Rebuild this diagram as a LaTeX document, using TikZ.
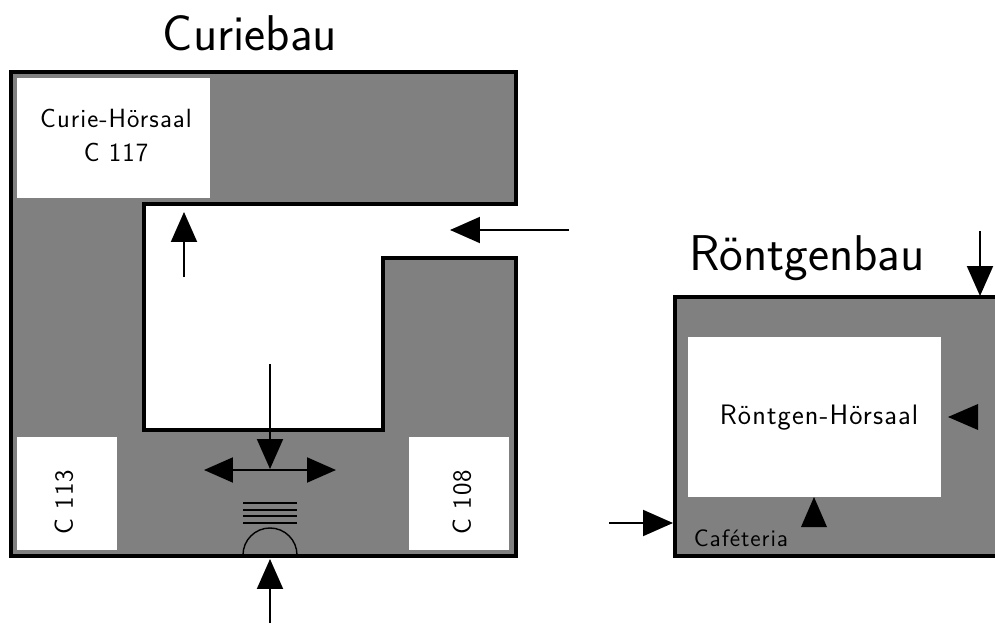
\documentclass[tikz,border=0pt]{standalone}
\usepackage{fontspec}
\newfontfamily\spacedsans{Latin Modern Sans}[LetterSpace=4]
\usetikzlibrary{arrows.meta}
\definecolor{wallgray}{HTML}{808080}
\tikzset{
  building/.style={draw=black,fill=wallgray,line width=2.3pt,miter limit=10},
  room/.style={fill=white},
  walk/.style={black,line width=1.15pt,-{Triangle[length=0.6cm,width=0.52cm]}},
  walkboth/.style={black,line width=1.15pt,{Triangle[length=0.58cm,width=0.5cm]}-{Triangle[length=0.58cm,width=0.5cm]}},
  stair/.style={black,line width=0.8pt},
  title/.style={font=\sffamily\fontsize{28.6}{32}\selectfont,inner sep=0pt},
  label/.style={font=\spacedsans\fontsize{15}{18}\selectfont,inner sep=0pt}
}
\begin{document}
\begin{tikzpicture}[x=0.02cm,y=0.02cm]
\useasboundingbox (0,0) rectangle (995,-625);
\clip (0,0) rectangle (995,-625);
% Curiebau
\draw [building] (11,-72) -- (516,-72) -- (516,-204) -- (144,-204) -- (144,-430) -- (383,-430) -- (383,-258) -- (516,-258) -- (516,-556) -- (11,-556) -- cycle;
\fill [room] (17,-78) rectangle (210,-198);
\fill [room] (17,-437) rectangle (117,-550);
\fill [room] (409,-437) rectangle (509,-550);
\node [title] (curiebau) at (250,-33) {Curiebau};
\node [label] (curiehs) at (116,-118) {Curie-Hörsaal};
\node [label] (c117) at (116,-152) {C 117};
\node [label,rotate=90] (c113) at (64,-502) {C 113};
\node [label,rotate=90] (c108) at (462,-502) {C 108};
\draw [walk] (184,-277) -- (184,-212);
\draw [walk] (569,-230) -- (450,-230);
\draw [walk] (270,-364) -- (270,-469);
\draw [walkboth] (204,-470) -- (336,-470);
\draw [walk] (270,-623) -- (270,-559);
% stairs
\foreach \y in {503,510,516,523}
  \draw [stair] (243,-\y) -- (297,-\y);
\draw [stair] (243,-555) arc (180:0:27);
% Roentgenbau
\draw [building] (675,-297) rectangle (1005,-556);
\fill [room] (688,-337) rectangle (941,-497);
\node [title] (roentgenbau) at (807,-258) {Röntgenbau};
\node [label,font=\spacedsans\fontsize{16}{18}\selectfont] (roentgenhs) at (819,-418) {Röntgen-Hörsaal};
\node [label,font=\spacedsans\fontsize{13.5}{16}\selectfont] (cafeteria) at (741,-538) {Caféteria};
\draw [walk] (980,-231) -- (980,-296);
\draw [walk] (609,-523) -- (673,-523);
\fill [black] (948,-417) -- (978,-404) -- (978,-430) -- cycle;
\fill [black] (814,-497) -- (801,-527) -- (827,-527) -- cycle;
\end{tikzpicture}
\end{document}
